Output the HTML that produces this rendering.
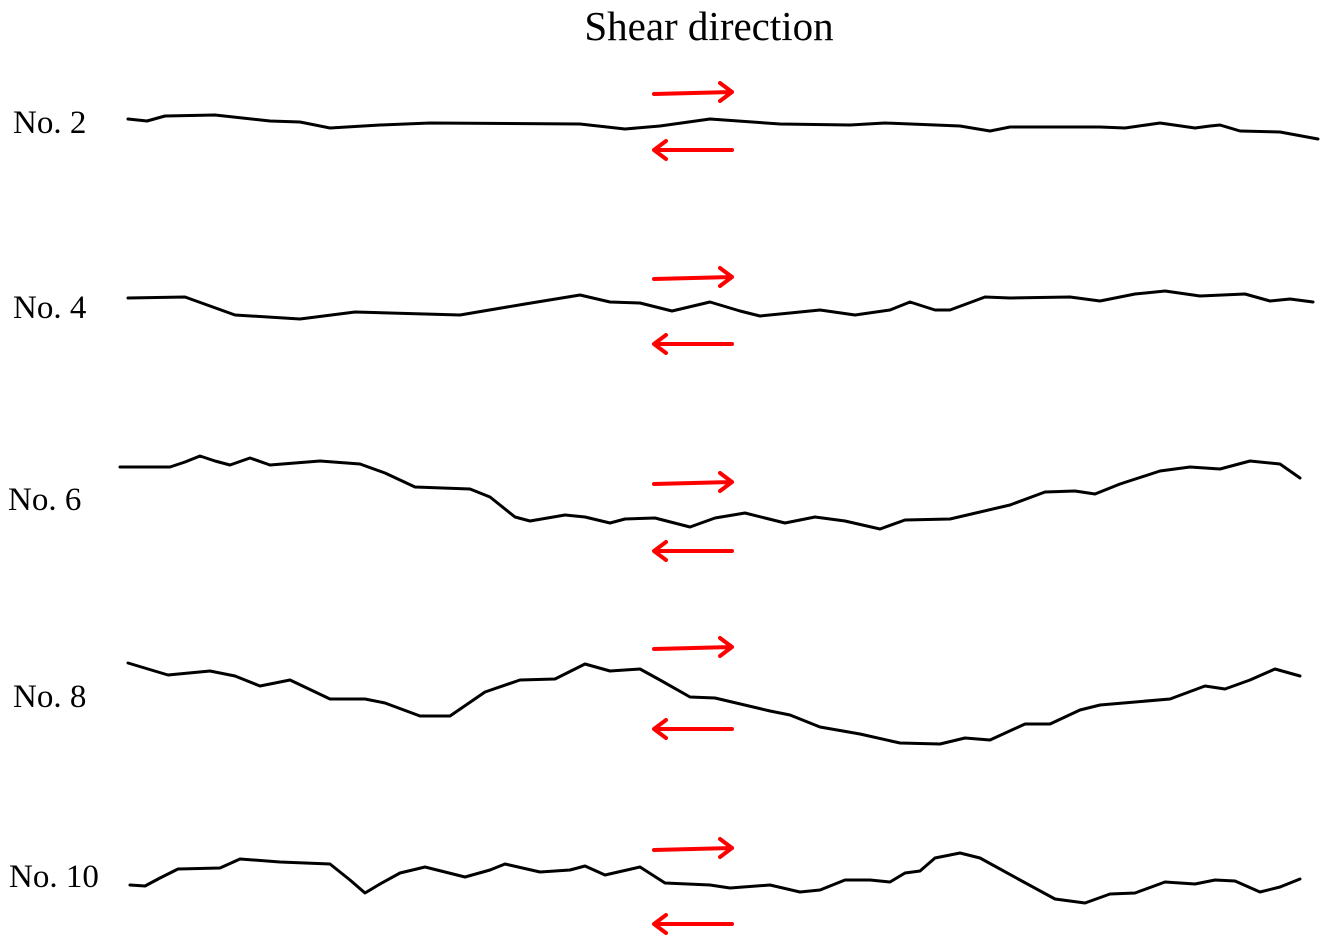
<!DOCTYPE html>
<html><head><style>
html,body{margin:0;padding:0;background:#fff;}
svg{display:block;}
text{font-family:"Liberation Serif",serif;fill:#000;}
</style></head><body>
<svg width="1326" height="946" viewBox="0 0 1326 946" xmlns="http://www.w3.org/2000/svg">
<defs>
<g id="ar"><path d="M0,2 L78,0 M66,-9 L78,0 L66,9" fill="none" stroke="#ff0000" stroke-width="4" stroke-linecap="round" stroke-linejoin="round"/></g>
<g id="al"><path d="M78,0 H0 M12,-9 L0,0 L12,9" fill="none" stroke="#ff0000" stroke-width="4" stroke-linecap="round" stroke-linejoin="round"/></g>
</defs>
<text x="709" y="40" font-size="41" text-anchor="middle">Shear direction</text>
<text x="13" y="133" font-size="33">No. 2</text>
<text x="13" y="318" font-size="33">No. 4</text>
<text x="8" y="510" font-size="33">No. 6</text>
<text x="13" y="707" font-size="33">No. 8</text>
<text x="9" y="887" font-size="33">No. 10</text>
<g fill="none" stroke="#000" stroke-width="3" stroke-linejoin="round" stroke-linecap="round">
<polyline points="128,119 147,121 165,116 215,115 270,121 300,122 330,128 380,125 430,123 580,124 625,129 660,126 710,119 780,124 850,125 885,123 960,126 990,131 1010,127 1100,127 1125,128 1160,123 1195,128 1210,126 1220,125 1240,131 1280,132 1318,139"/>
<polyline points="128,298 185,297 210,306 235,315 300,319 355,312 460,315 525,304 580,295 610,302 640,303 672,311 710,302 740,311 760,316 790,313 820,310 855,315 890,310 910,302 935,310 950,310 985,297 1010,298 1070,297 1100,301 1135,294 1165,291 1200,296 1245,294 1270,301 1290,299 1313,302"/>
<polyline points="120,467 170,467 185,462 200,456 215,461 230,465 250,458 270,465 320,461 360,464 385,473 415,487 470,489 490,497 515,517 530,521 565,515 585,517 610,523 625,519 655,518 690,527 715,518 745,513 765,518 785,523 815,517 845,521 880,529 905,520 950,519 1010,505 1045,492 1075,491 1095,494 1120,484 1160,471 1190,467 1220,469 1250,461 1280,464 1300,478"/>
<polyline points="128,663 168,675 210,671 235,676 260,686 290,680 330,699 365,699 385,703 420,716 450,716 485,692 520,680 555,679 585,664 610,671 640,669 660,680 690,697 715,698 770,711 790,715 820,727 860,734 900,743 940,744 965,738 990,740 1025,724 1050,724 1080,710 1100,705 1170,699 1205,686 1225,689 1250,680 1275,669 1300,676"/>
<polyline points="130,885 145,886 160,878 178,869 220,868 240,859 280,862 330,864 350,880 365,893 380,884 400,873 425,867 465,877 490,870 505,864 540,872 570,870 585,866 605,875 640,867 665,883 710,885 730,888 770,885 800,892 820,890 845,880 870,880 890,882 905,873 920,871 935,858 960,853 980,858 1020,880 1055,899 1085,903 1110,894 1135,893 1165,882 1195,884 1215,880 1235,881 1260,892 1280,887 1300,879"/>
</g>
<use href="#ar" x="654" y="92"/><use href="#al" x="654" y="150"/>
<use href="#ar" x="654" y="277"/><use href="#al" x="654" y="344"/>
<use href="#ar" x="654" y="482"/><use href="#al" x="654" y="551"/>
<use href="#ar" x="654" y="647"/><use href="#al" x="654" y="729"/>
<use href="#ar" x="654" y="848"/><use href="#al" x="654" y="924"/>
</svg>
</body></html>
